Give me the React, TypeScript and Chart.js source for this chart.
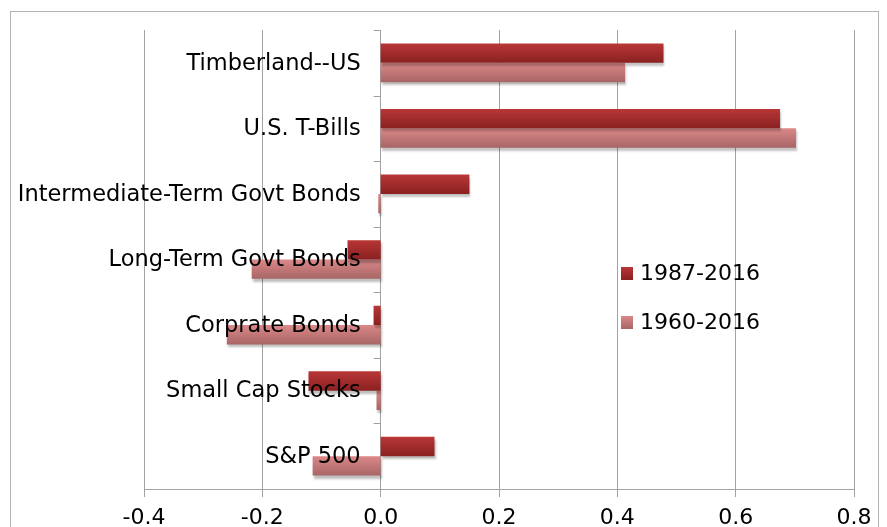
import React, { useEffect, useRef } from "react";
import { Chart, registerables } from "chart.js";

Chart.register(...registerables);

const categories = [
  "Timberland--US",
  "U.S. T-Bills",
  "Intermediate-Term Govt Bonds",
  "Long-Term Govt Bonds",
  "Corprate Bonds",
  "Small Cap Stocks",
  "S&P 500",
];
const seriesNames = ["1987-2016", "1960-2016"];
const values1987 = [0.478, 0.675, 0.15, -0.056, -0.012, -0.122, 0.091];
const values1960 = [0.413, 0.702, -0.004, -0.218, -0.26, -0.007, -0.115];
const xMin = -0.4;
const xMax = 0.8;
const xStep = 0.2;

const FONT = "'DejaVu Sans', Verdana, sans-serif";
const CAT_FONT_SIZE = 22.5;
const FONT_SIZE = 22;

const gradStops = [
  ["#b93636", "#8a2121"],
  ["#db8888", "#a86565"],
];

function makeBg(dsIndex: number) {
  return (ctx: any) => {
    const el = ctx.element;
    const chart = ctx.chart;
    if (!el || el.y === undefined || isNaN(el.y) || !el.height) return gradStops[dsIndex][0];
    const top = el.y - el.height / 2;
    const bottom = el.y + el.height / 2;
    const g = chart.ctx.createLinearGradient(0, top, 0, bottom);
    g.addColorStop(0, gradStops[dsIndex][0]);
    g.addColorStop(1, gradStops[dsIndex][1]);
    return g;
  };
}

const overlayPlugin = {
  id: "overlay",
  beforeDatasetDraw(chart: any) {
    const c = chart.ctx;
    c.save();
    c.shadowColor = "rgba(0,0,0,0.25)";
    c.shadowOffsetX = 1;
    c.shadowOffsetY = 3;
    c.shadowBlur = 2;
  },
  afterDatasetDraw(chart: any) {
    chart.ctx.restore();
  },
  afterDraw(chart: any) {
    const c = chart.ctx;
    const xs = chart.scales.x;
    const ys = chart.scales.y;
    const area = chart.chartArea;
    const zero = xs.getPixelForValue(0);
    c.save();
    // category tick marks on zero line
    c.strokeStyle = "#a0a0a0";
    c.lineWidth = 1;
    const n = categories.length;
    const band = (area.bottom - area.top) / n;
    for (let i = 0; i <= n; i++) {
      const y = Math.round(area.top + i * band) + 0.5;
      c.beginPath();
      c.moveTo(zero - 7, y);
      c.lineTo(zero, y);
      c.stroke();
    }
    // category labels next to zero line
    c.fillStyle = "#000";
    c.font = `${CAT_FONT_SIZE}px ${FONT}`;
    c.textAlign = "right";
    c.textBaseline = "middle";
    categories.forEach((lab, i) => {
      const y = ys.getPixelForValue(i);
      c.fillText(lab, zero - 20, y + 1);
    });
    // legend
    c.font = `${FONT_SIZE}px ${FONT}`;
    const lx = 621;
    const ly = [273, 322];
    chart.data.datasets.forEach((ds: any, i: number) => {
      const g = c.createLinearGradient(0, ly[i] - 6, 0, ly[i] + 7);
      g.addColorStop(0, gradStops[i][0]);
      g.addColorStop(1, gradStops[i][1]);
      c.fillStyle = g;
      c.fillRect(lx, ly[i] - 6, 12, 13);
      c.fillStyle = "#000";
      c.textAlign = "left";
      c.fillText(ds.label, 640, ly[i] + 1);
    });
    c.restore();
  },
};

export default function App() {
  const ref = useRef<HTMLCanvasElement | null>(null);
  useEffect(() => {
    if (!ref.current) return;
    const chart = new Chart(ref.current, {
      type: "bar",
      data: {
        labels: categories,
        datasets: [
          {
            label: seriesNames[0],
            data: values1987,
            backgroundColor: makeBg(0),
            borderWidth: 0,
            categoryPercentage: 0.59,
            barPercentage: 1,
          },
          {
            label: seriesNames[1],
            data: values1960,
            backgroundColor: makeBg(1),
            borderWidth: 0,
            categoryPercentage: 0.59,
            barPercentage: 1,
          },
        ],
      },
      options: {
        indexAxis: "y",
        animation: false,
        responsive: false,
        maintainAspectRatio: false,
        layout: { padding: { left: 144, right: 33, top: 30, bottom: 0 } },
        plugins: {
          legend: { display: false },
          tooltip: { enabled: false },
        },
        scales: {
          y: {
            display: false,
          },
          x: {
            min: xMin,
            max: xMax,
            afterFit(scale: any) {
              scale.height = 38;
            },
            ticks: {
              stepSize: xStep,
              padding: 8,
              color: "#000",
              font: { family: FONT, size: FONT_SIZE },
              maxRotation: 0,
              callback: (v: any) => (Math.abs(Number(v)) < 1e-9 ? "0.0" : Number(v).toFixed(1)),
            },
            grid: {
              color: "#a3a3a3",
              lineWidth: 1,
              tickLength: 8,
              drawTicks: true,
            },
            border: { display: true, color: "#a3a3a3", width: 1 },
          },
        },
      },
      plugins: [overlayPlugin],
    } as any);
    chart.update();
    return () => chart.destroy();
  }, []);
  return (
    <div style={{ position: "absolute", left: 0, top: 0, width: 887, height: 527, overflow: "hidden", background: "#fff" }}>
      <div
        style={{
          position: "absolute",
          left: 10,
          top: 11,
          width: 869,
          height: 540,
          border: "1px solid #b3b3b3",
          boxSizing: "border-box",
        }}
      />
      <canvas ref={ref} width={887} height={527} style={{ position: "absolute", left: 0, top: 0, width: 887, height: 527 }} />
    </div>
  );
}
